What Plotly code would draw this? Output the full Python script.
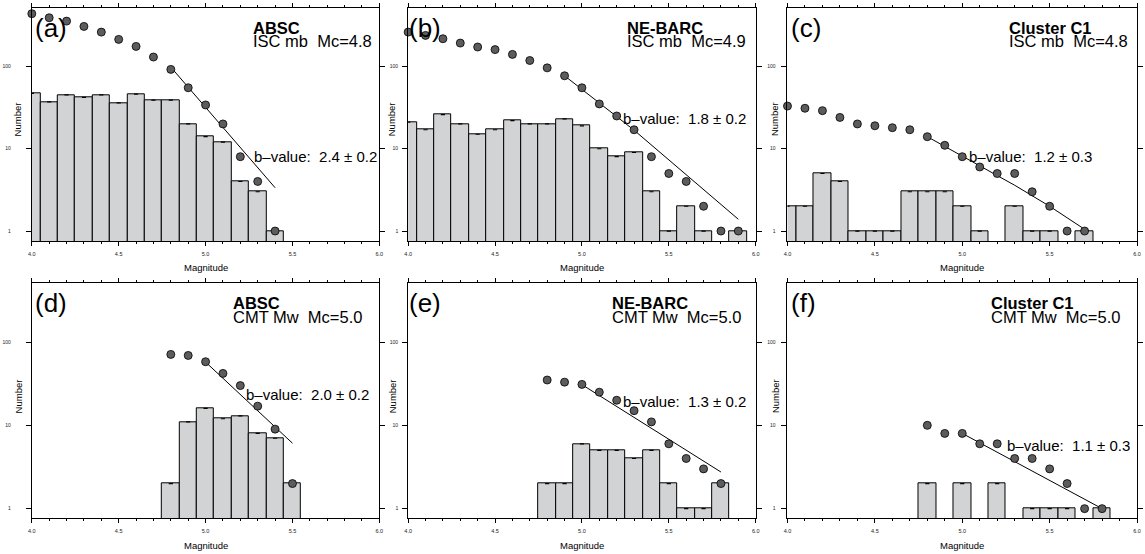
import plotly.graph_objects as go

W, H = 1145, 554
FONT = "Liberation Sans, Arial, Helvetica, sans-serif"

# ---------------- data ----------------
# (a) ABSC, ISC mb
a_bin_m = [4.0, 4.1, 4.2, 4.3, 4.4, 4.5, 4.6, 4.7, 4.8, 4.9, 5.0, 5.1, 5.2, 5.3, 5.4]
a_counts = [47, 37, 45, 42, 45, 36, 46, 39, 39, 20, 14, 12, 4, 3, 1]
a_cum_m = [4.0, 4.1, 4.2, 4.3, 4.4, 4.5, 4.6, 4.7, 4.8, 4.9, 5.0, 5.1, 5.2, 5.3, 5.4]
a_cum_n = [437, 390, 355, 306, 261, 213, 175, 130, 92, 55, 34, 20, 8, 4, 1]
a_fit_m = [4.8, 5.4]
a_fit_n = [98, 3.36]

# (b) NE-BARC, ISC mb
b_bin_m = [4.0, 4.1, 4.2, 4.3, 4.4, 4.5, 4.6, 4.7, 4.8, 4.9, 5.0, 5.1, 5.2, 5.3, 5.4, 5.5, 5.6, 5.7, 5.9]
b_counts = [21, 17, 26, 20, 15, 17, 22, 20, 20, 23, 19, 10, 8, 9, 3, 1, 2, 1, 1]
b_cum_m = [4.0, 4.1, 4.2, 4.3, 4.4, 4.5, 4.6, 4.7, 4.8, 4.9, 5.0, 5.1, 5.2, 5.3, 5.4, 5.5, 5.6, 5.7, 5.8, 5.9]
b_cum_n = [261, 238, 217, 192, 172, 160, 140, 118, 96, 77, 55, 35, 25, 17, 8, 5, 4, 2, 1, 1]
b_fit_m = [4.9, 5.3, 5.9]
b_fit_n = [77, 16.8, 1.39]

# (c) Cluster C1, ISC mb
c_bin_m = [4.0, 4.1, 4.2, 4.3, 4.4, 4.5, 4.6, 4.7, 4.8, 4.9, 5.0, 5.1, 5.3, 5.4, 5.5, 5.7]
c_counts = [2, 2, 5, 4, 1, 1, 1, 3, 3, 3, 2, 1, 2, 1, 1, 1]
c_cum_m = [4.0, 4.1, 4.2, 4.3, 4.4, 4.5, 4.6, 4.7, 4.8, 4.9, 5.0, 5.1, 5.2, 5.3, 5.4, 5.5, 5.6, 5.7]
c_cum_n = [33, 31, 29, 24, 20, 19, 18, 17, 14, 11, 8, 6, 5, 5, 3, 2, 1, 1]
c_fit_m = [4.8, 5.0, 5.3, 5.5, 5.6, 5.7]
c_fit_n = [14, 8.1, 3.6, 2.0, 1.45, 1.05]

# (d) ABSC, CMT Mw
d_bin_m = [4.8, 4.9, 5.0, 5.1, 5.2, 5.3, 5.4, 5.5]
d_counts = [2, 11, 16, 12, 13, 8, 7, 2]
d_cum_m = [4.8, 4.9, 5.0, 5.1, 5.2, 5.3, 5.4, 5.5]
d_cum_n = [71, 69, 58, 42, 30, 17, 9, 2]
d_fit_m = [5.0, 5.5]
d_fit_n = [57.5, 6.1]

# (e) NE-BARC, CMT Mw
e_bin_m = [4.8, 4.9, 5.0, 5.1, 5.2, 5.3, 5.4, 5.5, 5.6, 5.7, 5.8]
e_counts = [2, 2, 6, 5, 5, 4, 5, 2, 1, 1, 2]
e_cum_m = [4.8, 4.9, 5.0, 5.1, 5.2, 5.3, 5.4, 5.5, 5.6, 5.7, 5.8]
e_cum_n = [35, 33, 31, 25, 20, 15, 11, 6, 4, 3, 2]
e_fit_m = [5.0, 5.8]
e_fit_n = [30.8, 2.75]

# (f) Cluster C1, CMT Mw
f_bin_m = [4.8, 5.0, 5.2, 5.4, 5.5, 5.6, 5.8]
f_counts = [2, 2, 2, 1, 1, 1, 1]
f_cum_m = [4.8, 4.9, 5.0, 5.1, 5.2, 5.3, 5.4, 5.5, 5.6, 5.7, 5.8]
f_cum_n = [10, 8, 8, 6, 6, 4, 4, 3, 2, 1, 1]
f_fit_m = [5.0, 5.8]
f_fit_n = [8.0, 1.0]

panel_labels = ["(a)", "(b)", "(c)", "(d)", "(e)", "(f)"]
regions = ["ABSC", "NE-BARC", "Cluster C1", "ABSC", "NE-BARC", "Cluster C1"]
catalogs = ["ISC mb\u00a0\u00a0Mc=4.8", "ISC mb\u00a0\u00a0Mc=4.9", "ISC mb\u00a0\u00a0Mc=4.8",
            "CMT Mw\u00a0\u00a0Mc=5.0", "CMT Mw\u00a0\u00a0Mc=5.0", "CMT Mw\u00a0\u00a0Mc=5.0"]
bvalues = ["2.4 \u00b1 0.2", "1.8 \u00b1 0.2", "1.2 \u00b1 0.3",
           "2.0 \u00b1 0.2", "1.3 \u00b1 0.2", "1.1 \u00b1 0.3"]
x_tick_vals = [4.0, 4.5, 5.0, 5.5, 6.0]
x_tick_text = ["4.0", "4.5", "5.0", "5.5", "6.0"]
y_tick_vals = [1, 10, 100]
y_tick_text = ["1", "10", "100"]

series = [
    (a_bin_m, a_counts, a_cum_m, a_cum_n, a_fit_m, a_fit_n),
    (b_bin_m, b_counts, b_cum_m, b_cum_n, b_fit_m, b_fit_n),
    (c_bin_m, c_counts, c_cum_m, c_cum_n, c_fit_m, c_fit_n),
    (d_bin_m, d_counts, d_cum_m, d_cum_n, d_fit_m, d_fit_n),
    (e_bin_m, e_counts, e_cum_m, e_cum_n, e_fit_m, e_fit_n),
    (f_bin_m, f_counts, f_cum_m, f_cum_n, f_fit_m, f_fit_n),
]

# ---------------- layout geometry (pixels) ----------------
cols = [(28, 378), (407, 757), (789, 1141)]
rows = [(8.3, 241), (283.3, 518.3)]
y_ranges = [(-0.121, 2.706), (-0.116, 2.705)]
ylab_standoff = [14, 3, 5]
TXT_PAD = 3
region_x = [252, 628, 1013, 232, 613, 995]
bval_pos = [(253, 156.5), (624, 119), (973, 156), (245, 394.5), (624, 401), (1011, 445)]
label_x = [32, 409, 794, 32, 409, 794]
number_x = [14.5, 391, 776.5]
number_y = [119, 396]
mag_y = [267, 545]

BAR_FILL = "#d2d3d5"
DOT_FILL = "#5c5c5c"

fig = go.Figure()
layout = dict(width=W, height=H, margin=dict(l=0, r=0, t=0, b=0),
              paper_bgcolor="white", plot_bgcolor="white", showlegend=False,
              bargap=0, annotations=[])


def px(x):
    return x / W


def py(y):
    return 1 - y / H


def ann(text, x, y, size, xanchor="left", angle=0):
    if xanchor == "left":
        x = x - TXT_PAD
    return dict(text=text, x=px(x), y=py(y), xref="paper", yref="paper",
                xanchor=xanchor, yanchor="middle", showarrow=False, textangle=angle,
                font=dict(family=FONT, size=size, color="black"))


for i, (bm, bc, cm, cn, fm, fn) in enumerate(series):
    r, c = divmod(i, 3)
    sx = "" if i == 0 else str(i + 1)
    xa, ya = "x" + sx, "y" + sx
    fig.add_trace(go.Bar(x=bm, y=bc, width=0.1, xaxis=xa, yaxis=ya,
                         marker=dict(color=BAR_FILL, line=dict(color="black", width=1))))
    fig.add_trace(go.Scatter(x=bm, y=bc, mode="markers", xaxis=xa, yaxis=ya,
                             marker=dict(symbol="line-ew", size=3,
                                         line=dict(color="black", width=1.2))))
    fig.add_trace(go.Scatter(x=fm, y=fn, mode="lines", xaxis=xa, yaxis=ya,
                             line=dict(color="black", width=1)))
    fig.add_trace(go.Scatter(x=cm, y=cn, mode="markers", xaxis=xa, yaxis=ya, cliponaxis=False,
                             marker=dict(size=8, color=DOT_FILL, line=dict(color="black", width=0.8))))

    x0, x1 = cols[c]
    y0, y1 = rows[r]
    layout["xaxis" + sx] = dict(
        domain=[px(x0), px(x1)], range=[4.0, 6.0], anchor=ya,
        tickmode="array", tickvals=x_tick_vals, ticktext=x_tick_text,
        ticks="outside", ticklen=4, tickwidth=1, tickcolor="black",
        minor=dict(dtick=0.1, tick0=4.0, ticks="outside", ticklen=2, tickcolor="black", showgrid=False),
        showline=True, linecolor="black", linewidth=1, mirror="ticks",
        showgrid=False, zeroline=False, ticklabelstandoff=3,
        tickfont=dict(family=FONT, size=5.5, color="#222"))
    layout["yaxis" + sx] = dict(
        domain=[py(y1), py(y0)], type="log", range=list(y_ranges[r]), anchor=xa,
        tickmode="array", tickvals=y_tick_vals, ticktext=y_tick_text,
        ticks="outside", ticklen=5, tickwidth=1, tickcolor="black",
        showline=True, linecolor="black", linewidth=1, mirror="ticks",
        showgrid=False, zeroline=False, ticklabelstandoff=ylab_standoff[c],
        tickfont=dict(family=FONT, size=5, color="#222"))

    anns = layout["annotations"]
    anns.append(ann(panel_labels[i], label_x[i], (y0 + 20), 26))
    anns.append(ann("<b>" + regions[i] + "</b>", region_x[i], y0 + 19.2, 16.5))
    anns.append(ann(catalogs[i], region_x[i], y0 + (32.7 if r == 0 else 33.2), 16.5))
    bx, by = bval_pos[i]
    anns.append(ann("b\u2013value:\u00a0\u00a0" + bvalues[i], bx, by, 15))
    anns.append(ann("Magnitude", (x0 + x1) / 2, mag_y[r], 9.5, xanchor="center"))
    anns.append(ann("Number", number_x[c], number_y[r], 9.5, xanchor="center", angle=-90))

fig.update_layout(**layout)
fig.write_html("out.html")
